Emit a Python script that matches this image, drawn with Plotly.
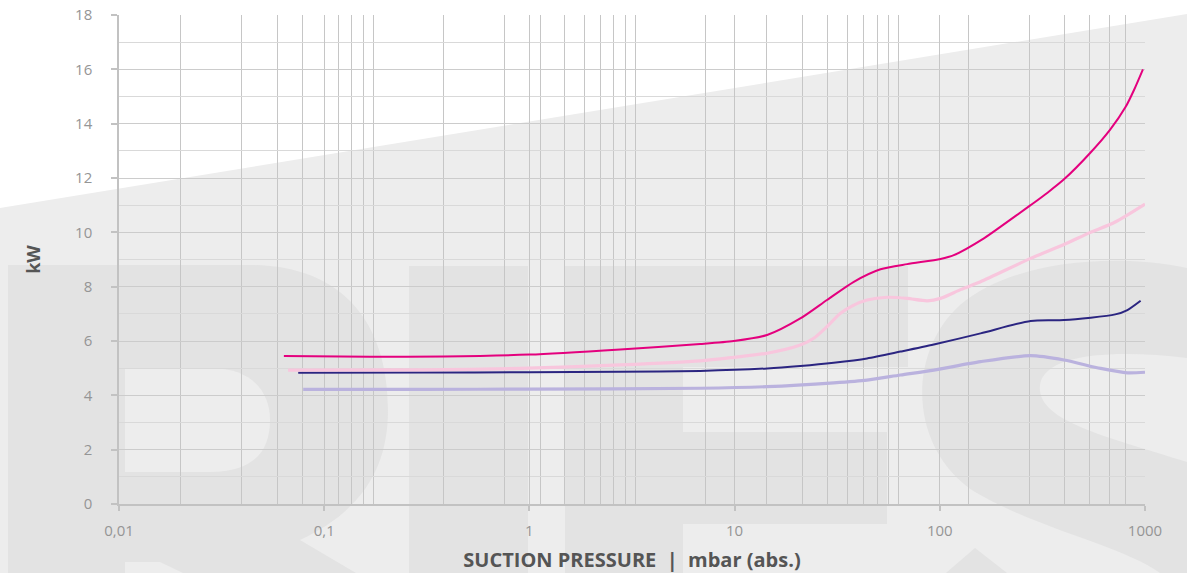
import plotly.graph_objects as go

# ---------------- data ----------------
magenta_x = [0.0636, 0.167, 0.381, 1.0, 2.77, 6.8, 9.9, 14.4, 20.9, 28.2, 38.1, 51.4, 69.3,
             100.8, 117, 164, 198, 277, 335, 403, 539, 675, 805, 884, 977]
magenta_y = [5.45, 5.42, 5.43, 5.5, 5.69, 5.89, 6.0, 6.22, 6.83, 7.51, 8.18, 8.64, 8.83,
             9.02, 9.16, 9.78, 10.21, 11.0, 11.46, 11.95, 12.91, 13.77, 14.62, 15.24, 16.0]

pink_x = [0.0667, 0.3, 0.9, 2.77, 6.8, 9.9, 14.4, 20.9, 24.3, 28.2, 32.8, 38.1, 44.2, 55.5,
          69.3, 86.9, 100.8, 127, 158, 277, 403, 539, 716, 1000]
pink_y = [4.93, 4.94, 4.99, 5.12, 5.27, 5.40, 5.55, 5.85, 6.10, 6.53, 7.02, 7.32, 7.51, 7.61,
          7.57, 7.48, 7.57, 7.90, 8.18, 9.04, 9.55, 9.99, 10.38, 11.04]

navy_x = [0.0747, 0.3, 1.0, 2.77, 6.8, 14.4, 20.9, 30.4, 44.2, 64.3, 93.5, 158, 277, 403,
          716, 821, 952]
navy_y = [4.83, 4.84, 4.85, 4.87, 4.90, 4.99, 5.08, 5.20, 5.36, 5.61, 5.87, 6.28, 6.74, 6.77,
          6.98, 7.14, 7.48]

lav_x = [0.079, 0.3, 1.0, 6.8, 14.4, 30.4, 44.2, 64.3, 93.5, 158, 277, 403, 608, 821, 1000]
lav_y = [4.22, 4.22, 4.23, 4.26, 4.32, 4.46, 4.56, 4.75, 4.93, 5.24, 5.46, 5.30, 4.99, 4.83, 4.85]

x_tick_vals = [0.01, 0.1, 1, 10, 100, 1000]
x_tick_text = ["0,01", "0,1", "1", "10", "100", "1000"]
x_minor_grid = [0.02, 0.0395, 0.059, 0.0785, 0.117, 0.136, 0.155, 0.1734, 0.3806, 0.755,
                1.128, 1.488, 1.854, 2.22, 2.58, 2.952, 3.304, 7.253, 14.32, 21.32, 28.43,
                35.32, 42.3, 49.5, 55.98, 63.1, 138.5, 273.9, 407, 539, 674.6, 805]
y_tick_vals = [0, 2, 4, 6, 8, 10, 12, 14, 16, 18]

# ---------------- figure ----------------
W, H = 1187, 573
ML, MR, MT, MB = 119, 42, 15, 69
PW, PH = W - ML - MR, H - MT - MB


def P(pts):
    """pixel coords -> paper coords path"""
    out = pts.split()
    res = []
    i = 0
    while i < len(out):
        t = out[i]
        if t.isalpha():
            res.append(t)
            i += 1
        else:
            x = (float(out[i]) - ML) / PW
            y = (MT + PH - float(out[i + 1])) / PH
            res.append(f"{x:.5f},{y:.5f}")
            i += 2
    return " ".join(res)


LIGHT = "#ededed"
DARK = "#e3e3e3"
paths = [
    (LIGHT, "M 0 208 L 1187 14 L 1187 573 L 0 573 Z"),
    # R
    (DARK, "M 8 265 L 250 265 C 340 265 388 320 388 410 C 388 470 360 512 300 540 L 356 573 L 8 573 Z"),
    (LIGHT, "M 125 368 L 210 368 C 255 368 270 395 270 420 C 270 450 255 472 210 472 L 125 472 Z"),
    (LIGHT, "M 125 562 L 160 562 L 183 573 L 125 573 Z"),
    # I
    (DARK, "M 409 266 L 528 266 L 528 573 L 409 573 Z"),
    # E
    (DARK, "M 565 266 L 908 266 L 908 367 L 683 367 L 683 432 L 887 432 L 887 524 L 683 524 L 683 573 L 565 573 Z"),
    # S
    (DARK, "M 1187 268 C 1110 252 1010 262 960 305 C 905 355 910 450 975 492 C 1040 530 1120 545 1160 573 L 1187 573 Z"),
    (LIGHT, "M 1187 358 C 1120 350 1045 352 1040 385 C 1036 420 1100 435 1187 462 Z"),
    (DARK, "M 946 573 L 975 548 L 1007 573 Z"),
]

shapes = [dict(type="path", xref="paper", yref="paper", path=P(p), fillcolor=c,
               line=dict(width=0), layer="below") for c, p in paths]

SM = 0.7
fig = go.Figure()
fig.add_trace(go.Scatter(x=lav_x, y=lav_y, mode="lines",
                         line=dict(color="#bab2de", width=3.2, shape="spline", smoothing=SM),
                         hoverinfo="skip", showlegend=False))
fig.add_trace(go.Scatter(x=navy_x, y=navy_y, mode="lines",
                         line=dict(color="#2b2581", width=2, shape="spline", smoothing=SM),
                         hoverinfo="skip", showlegend=False))
fig.add_trace(go.Scatter(x=pink_x, y=pink_y, mode="lines",
                         line=dict(color="#f8c6dd", width=3.2, shape="spline", smoothing=SM),
                         hoverinfo="skip", showlegend=False))
fig.add_trace(go.Scatter(x=magenta_x, y=magenta_y, mode="lines",
                         line=dict(color="#e4007e", width=2, shape="spline", smoothing=SM),
                         hoverinfo="skip", showlegend=False))

tick_font = dict(family="Open Sans, Lato, sans-serif", size=15, color="#959595")
title_font = dict(family="Open Sans, Lato, sans-serif", size=20, color="#555555")

fig.update_layout(
    width=W, height=H, autosize=False,
    margin=dict(l=ML, r=MR, t=MT, b=MB, pad=0, autoexpand=False),
    paper_bgcolor="#ffffff",
    plot_bgcolor="rgba(0,0,0,0)",
    shapes=shapes,
    xaxis=dict(
        type="log", range=[-2, 3], automargin=False,
        tickmode="array", tickvals=x_tick_vals, ticktext=x_tick_text,
        showgrid=True, gridcolor="#c6c6c6", gridwidth=1,
        minor=dict(tickmode="array", tickvals=x_minor_grid, showgrid=True,
                   gridcolor="#c6c6c6", gridwidth=1, ticks=""),
        showline=True, linecolor="#c2c2c2", linewidth=1.5,
        ticks="outside", ticklen=5, tickcolor="#c2c2c2", tickwidth=1.5,
        tickfont=tick_font, ticklabelstandoff=7,
        title=dict(text="<b>SUCTION PRESSURE  |  mbar (abs.)</b>", font=title_font, standoff=17),
        zeroline=False,
    ),
    yaxis=dict(
        range=[0, 18], automargin=False,
        tickmode="array", tickvals=y_tick_vals,
        showgrid=True, gridcolor="#cccccc", gridwidth=1,
        minor=dict(dtick=1, showgrid=True, gridcolor="#d9d9d9", gridwidth=1, ticks=""),
        showline=True, linecolor="#c2c2c2", linewidth=1.5,
        ticks="outside", ticklen=6, tickcolor="#c2c2c2", tickwidth=1.5,
        tickfont=tick_font, ticklabelstandoff=16,
        title=dict(text="<b>kW</b>", font=dict(family="Open Sans, Lato, sans-serif", size=18,
                                                color="#555555"), standoff=30),
        zeroline=False,
    ),
)

fig.write_html("out.html",
               config={"displayModeBar": False},
               post_script="document.body.style.margin='0';document.body.style.overflow='hidden';")
